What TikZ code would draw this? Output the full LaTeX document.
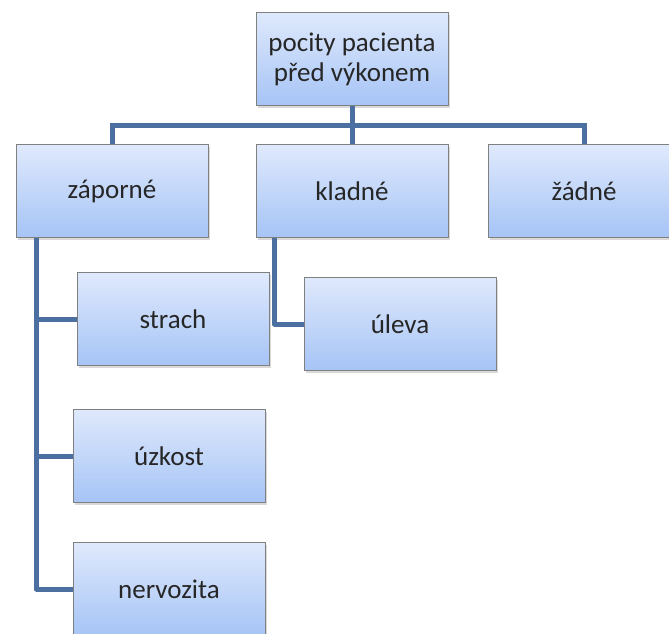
\documentclass[tikz,border=0pt]{standalone}
\usepackage{fontspec}
\setmainfont{Carlito}
\usepackage{xcolor}
\usepackage{tikz}
\usetikzlibrary{shadows,positioning}

\definecolor{boxtop}{RGB}{223,233,252}
\definecolor{boxbot}{RGB}{166,196,246}
\definecolor{boxline}{RGB}{128,128,128}
\definecolor{linkblue}{RGB}{74,111,160}

\tikzset{
    item/.style={draw=boxline, line width=0.8pt, top color=boxtop, bottom color=boxbot,
        minimum width=192pt, minimum height=93pt, align=center, text=black!85,
        font=\fontsize{27}{30}\selectfont,
        drop shadow={opacity=0.3, shadow xshift=1.5pt, shadow yshift=-2.5pt}},
    link/.style={draw=linkblue, line width=5pt}
}

\begin{document}
\begin{tikzpicture}[x=1pt, y=-1pt]
    \useasboundingbox (0,0) rectangle (669,634);
    % top
    \node[item] (root) at (352,59) {pocity pacienta\\před výkonem};
    % second row
    \node[item] (zap) at (112,191) {záporné};
    \node[item] (klad) at (352,191) {kladné};
    \node[item] (zad) at (584,191) {žádné};
    % under zaporne
    \node[item] (strach) at (173,319) {strach};
    \node[item] (uzk) at (169,456) {úzkost};
    \node[item] (nerv) at (169,589) {nervozita};
    % under kladne
    \node[item] (ulev) at (400,324) {úleva};
    \coordinate (bus) at (352,125);
    \coordinate (zapdown) at ([xshift=21pt]zap.south west);
    \coordinate (kladdown) at ([xshift=19pt]klad.south west);
    \draw[link] (root.south) -- (bus) -| (zap.north);
    \draw[link] (bus) -| (zad.north);
    \draw[link] (bus) -- (klad.north);
    \draw[link] (zapdown) |- (strach.west);
    \draw[link] (zapdown) |- (uzk.west);
    \draw[link, line join=round] (zapdown) |- (nerv.west);
    \draw[link, line join=round] (kladdown) |- (ulev.west);
\end{tikzpicture}
\end{document}
